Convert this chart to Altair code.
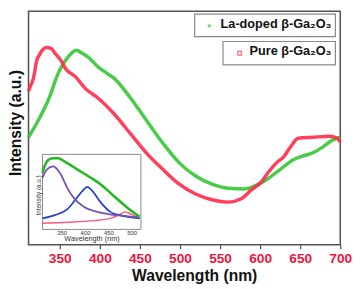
import altair as alt
import pandas as pd

# ---- main spectra (wavelength nm, intensity a.u.) ----
la_wl = [311, 324.4, 336.6, 348.8, 357.3, 363.4, 370.7, 378, 385.4, 397.6, 409.8, 417.9,
         438.2, 458.5, 478.9, 499.1, 519.5, 539.9, 560.1, 580.5, 592.7, 604.9, 623.2,
         641.5, 653.7, 665.9, 678, 690.2, 700]
la_int = [44.9, 52.7, 61.2, 72.2, 77.1, 79.6, 81.2, 80.0, 78.4, 74.3, 71.4, 69.5,
          61.3, 51.8, 42.3, 34.2, 28.7, 25.3, 23.6, 23.3, 24.5, 26.5, 31.0,
          35.5, 37.1, 38.4, 40.8, 43.7, 44.9]

pure_wl = [311, 313.5, 315.9, 318.3, 320.7, 324.4, 328, 333, 339, 345, 351.2, 357.3,
           369.5, 381.7, 397.6, 417.9, 438.2, 458.5, 478.9, 499.1, 519.5, 539.9, 560.1,
           576.5, 589, 601.2, 611, 620.7, 629.3, 637.8, 647.6, 665.9, 686.6, 696.3, 700]
pure_int = [64.1, 66.5, 68.2, 71.4, 76.3, 79.2, 81.2, 82.4, 82.0, 79.6, 77.1, 73.5,
            70.2, 65.3, 61.3, 54.6, 46.4, 38.2, 31.4, 25.3, 21.2, 18.8, 17.8,
            19.2, 22.9, 26.1, 30.6, 34.3, 36.7, 40.8, 44.5, 44.9, 45.3, 44.5, 42.9]

# ---- inset: measured spectrum and fitted components ----
ins_meas_wl = [307.6, 313.3, 320.2, 330.7, 341.2, 355.2, 383.1, 411.2, 432.2, 460.1, 488.0, 516.1]
ins_meas_int = [58.0, 66.3, 71.3, 73.0, 73.0, 69.6, 61.3, 53.0, 46.3, 34.6, 23.0, 13.0]
ins_c1_wl = [307.6, 316.8, 330.7, 344.8, 362.2, 376.3, 397.3, 432.2, 467.1, 516.1]
ins_c1_int = [53.0, 61.3, 64.6, 58.0, 41.3, 31.3, 23.0, 17.3, 14.6, 12.3]
ins_c2_wl = [307.6, 334.2, 362.2, 379.8, 393.6, 404.1, 414.6, 432.2, 453.2, 474.1, 516.1]
ins_c2_int = [11.3, 14.6, 21.3, 31.3, 39.6, 43.6, 39.6, 28.0, 18.0, 14.6, 11.3]
ins_c3_wl = [307.6, 362.2, 418.2, 453.2, 470.6, 484.7, 495.2, 509.0, 516.1]
ins_c3_int = [6.3, 7.3, 9.0, 11.3, 14.6, 18.0, 16.3, 13.0, 11.3]

x_ticks = [350, 400, 450, 500, 550, 600, 650, 700]
inset_ticks = [350, 400, 450, 500]
legend_labels = ["La-doped β-Ga₂O₃", "Pure β-Ga₂O₃"]

FONT = "Liberation Sans"
W, H = 319, 239
STAR = ("M0,-1L0.29,-0.4L0.95,-0.31L0.48,0.15L0.59,0.81L0,0.5L-0.59,0.81"
        "L-0.48,0.15L-0.95,-0.31L-0.29,-0.4Z")

main_x = alt.Scale(domain=[311, 700], nice=False, zero=False)
main_y = alt.Scale(domain=[0, 97.55], nice=False, zero=False)
ins_x = alt.Scale(domain=[307.6, 519], range=[14.3, 115], nice=False, zero=False)
ins_y = alt.Scale(domain=[0, 77], range=[223.3, 146.5], nice=False, zero=False)

df_la = pd.DataFrame({"wl": la_wl, "v": la_int})
df_pure = pd.DataFrame({"wl": pure_wl, "v": pure_int})

x_axis = alt.Axis(orient="bottom", values=x_ticks, title="Wavelength (nm)", grid=False,
                  domain=False, ticks=True, tickSize=4, tickColor="#444", tickWidth=1.2,
                  labelColor="#f0143c", labelFont=FONT, labelFontSize=14,
                  labelFontWeight="bold", labelPadding=3, labelFlush=False,
                  titleFont=FONT, titleFontSize=16, titleFontWeight="bold",
                  titleColor="#111", titleX=169.5, titleY=36.5,
                  titleBaseline="alphabetic", titleAlign="center")
y_axis = alt.Axis(orient="left", title="Intensity (a.u.)", labels=False, ticks=False,
                  domain=False, grid=False, titleAngle=270, titleX=-8.5, titleY=114,
                  titleBaseline="alphabetic", titleAlign="center", titleFont=FONT,
                  titleFontSize=16, titleFontWeight="bold", titleColor="#111")

green_main = alt.Chart(df_la).mark_line(color="#33c633", strokeWidth=3.5,
                                        interpolate="monotone", opacity=0.9).encode(
    x=alt.X("wl:Q", scale=main_x, axis=x_axis),
    y=alt.Y("v:Q", scale=main_y, axis=y_axis),
)
red_main = alt.Chart(df_pure).mark_line(color="#ff2a4a", strokeWidth=3.5,
                                        interpolate="monotone", opacity=0.9).encode(
    x=alt.X("wl:Q", scale=main_x, axis=None),
    y=alt.Y("v:Q", scale=main_y, axis=None),
)

one = pd.DataFrame({"d": [0]})

inset_box = alt.Chart(one).mark_rect(fill="white", stroke="#888", strokeWidth=1).encode(
    x=alt.value(14.3), x2=alt.value(115), y=alt.value(146.5), y2=alt.value(223.3))


def inset_line(wl, vals, color, sw):
    d = pd.DataFrame({"wl": wl, "v": vals})
    return alt.Chart(d).mark_line(color=color, strokeWidth=sw, interpolate="monotone").encode(
        x=alt.X("wl:Q", scale=ins_x, axis=None),
        y=alt.Y("v:Q", scale=ins_y, axis=None),
    )


ins_layers = [
    inset_line(ins_c3_wl, ins_c3_int, "#ff5a7a", 1.5),
    inset_line(ins_c2_wl, ins_c2_int, "#2a3fd0", 1.8),
    inset_line(ins_c1_wl, ins_c1_int, "#7550b0", 1.8),
    inset_line(ins_meas_wl, ins_meas_int, "#22b822", 2.6),
]

ins_tick_df = pd.DataFrame({"t": inset_ticks})
ins_tick_labels = alt.Chart(ins_tick_df).mark_text(
    font=FONT, fontSize=6, color="#333", baseline="middle", align="center").encode(
    x=alt.X("t:Q", scale=ins_x, axis=None),
    y=alt.value(226.8),
    text=alt.Text("t:Q"),
)
ins_xtitle = alt.Chart(one).mark_text(
    text="Wavelength (nm)", font=FONT, fontSize=7.5, color="#333",
    baseline="middle", align="center").encode(x=alt.value(65), y=alt.value(233.5))
ins_ytitle = alt.Chart(one).mark_text(
    text="Intensity (a.u.)", font=FONT, fontSize=6.5, color="#333",
    baseline="middle", align="center", angle=270).encode(x=alt.value(10.5), y=alt.value(188.5))

leg_box1 = alt.Chart(one).mark_rect(fill="white", stroke="#888", strokeWidth=1.2).encode(
    x=alt.value(170), x2=alt.value(314), y=alt.value(3), y2=alt.value(26))
leg_box2 = alt.Chart(one).mark_rect(fill="white", stroke="#888", strokeWidth=1.2).encode(
    x=alt.value(199), x2=alt.value(314), y=alt.value(31), y2=alt.value(55))
leg_sym1 = alt.Chart(one).mark_point(shape=STAR, filled=True, color="#33c633", size=26).encode(
    x=alt.value(185), y=alt.value(15))
leg_sym2 = alt.Chart(one).mark_point(shape="square", filled=False, color="#ff2a4a",
                                     size=14, strokeWidth=1.3).encode(
    x=alt.value(216), y=alt.value(43))
leg_txt1 = alt.Chart(one).mark_text(
    text=legend_labels[0], font=FONT, fontSize=13, fontWeight="bold", color="#111",
    align="right", baseline="alphabetic").encode(x=alt.value(310), y=alt.value(17))
leg_txt2 = alt.Chart(one).mark_text(
    text=legend_labels[1], font=FONT, fontSize=13, fontWeight="bold", color="#111",
    align="right", baseline="alphabetic").encode(x=alt.value(310), y=alt.value(45))

chart = alt.layer(
    green_main, red_main, inset_box, *ins_layers, ins_tick_labels, ins_xtitle, ins_ytitle,
    leg_box1, leg_box2, leg_sym1, leg_sym2, leg_txt1, leg_txt2,
).resolve_scale(x="independent", y="independent").properties(
    width=W, height=H,
    autosize=alt.AutoSizeParams(type="none"),
    padding={"left": 21, "top": 0, "right": 12, "bottom": 41},
    background="white",
).configure_view(stroke="#555", strokeWidth=1.6)

chart.save("out.html", embed_options={"renderer": "svg", "actions": False})
